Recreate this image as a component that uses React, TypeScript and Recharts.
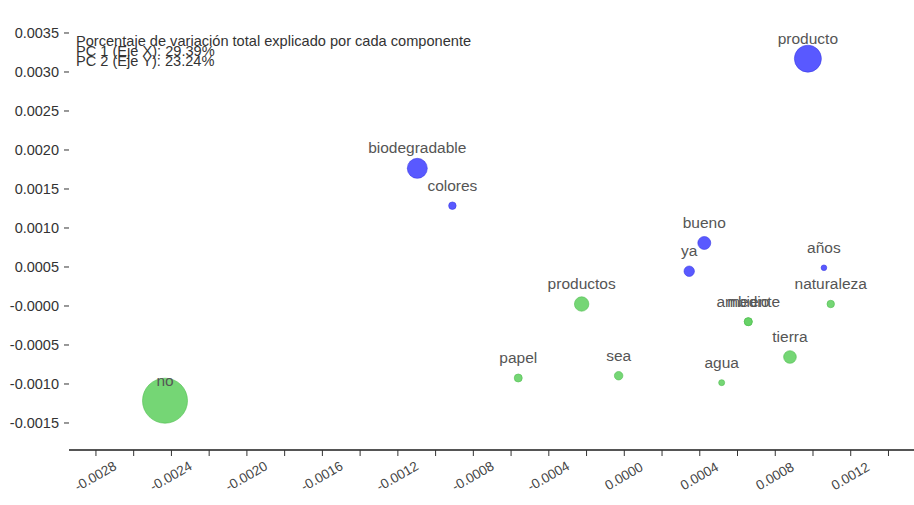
import React from 'react';
import { ScatterChart, Scatter, XAxis, YAxis, ZAxis } from 'recharts';

// PCA word map: blue = group 1, green = group 2
const blueWords = ['producto', 'biodegradable', 'colores', 'bueno', 'ya', 'años'];
const bluePc1 = [0.000973, -0.001097, -0.000911, 0.000424, 0.000344, 0.001058];
const bluePc2 = [0.003171, 0.001765, 0.001286, 0.000808, 0.000446, 0.00049];
const blueSize = [182, 100, 14, 42, 27, 8];

const greenWords = ['productos', 'naturaleza', 'ambiente', 'medio', 'tierra', 'papel', 'sea', 'agua', 'no'];
const greenPc1 = [-0.000226, 0.001094, 0.000657, 0.000657, 0.000878, -0.000562, -0.00003, 0.000516, -0.002434];
const greenPc2 = [0.0000256, 0.0000256, -0.000201, -0.000201, -0.000654, -0.000923, -0.000894, -0.000983, -0.001214];
const greenSize = [52, 14, 16, 16, 40, 16, 18, 9, 506];

const xTicks = [-0.0028, -0.0026, -0.0024, -0.0022, -0.002, -0.0018, -0.0016, -0.0014, -0.0012, -0.001, -0.0008, -0.0006,
  -0.0004, -0.0002, 0, 0.0002, 0.0004, 0.0006, 0.0008, 0.001, 0.0012, 0.0014];
const yTicks = [0.0035, 0.003, 0.0025, 0.002, 0.0015, 0.001, 0.0005, 0, -0.0005, -0.001, -0.0015];

const titleLines = [
  'Porcentaje de variación total explicado por cada componente',
  'PC 1 (Eje X): 29.39%',
  'PC 2 (Eje Y): 23.24%',
];

const build = (words: string[], xs: number[], ys: number[], zs: number[]) =>
  words.map((w, i) => ({ word: w, x: xs[i], y: ys[i], z: zs[i] }));

const blueData = build(blueWords, bluePc1, bluePc2, blueSize);
const greenData = build(greenWords, greenPc1, greenPc2, greenSize);

const FONT = 'Arial, "Liberation Sans", sans-serif';

const makeBubble = (fill: string, stroke: string) => (props: any) => {
  const { cx, cy, payload } = props;
  const r = props.width ? props.width / 2 : Math.sqrt((props.size || 0) / Math.PI);
  return (
    <g>
      <circle cx={cx} cy={cy} r={r} fill={fill} stroke={stroke} strokeWidth={1} />
      <text x={cx} y={cy - 15} textAnchor="middle" fontSize={15.5} fill="#555" fontFamily={FONT}>
        {payload.word}
      </text>
    </g>
  );
};

const XTick = (props: any) => {
  const { x, y, payload } = props;
  const v = payload.value;
  const k = Math.round(v / 0.0002);
  if (k % 2 !== 0) return null;
  const ty = y + 19;
  return (
    <text x={x} y={ty} textAnchor="middle" dominantBaseline="middle" fontSize={13.5} fill="#444"
      fontFamily={FONT} transform={`rotate(-30, ${x}, ${ty})`}>
      {v.toFixed(4)}
    </text>
  );
};

const yFormat = (v: number) => (v === 0 ? '-0.0000' : v.toFixed(4));

const App: React.FC = () => {
  return (
    <div style={{ position: 'absolute', left: 0, top: 0, width: 914, height: 505, background: '#fff' }}>
      <ScatterChart width={914} height={505} margin={{ top: 8, right: 0, bottom: 0, left: 0 }}>
        <XAxis type="number" dataKey="x" domain={[-0.0029428, 0.0015353]} ticks={xTicks} interval={0}
          allowDataOverflow axisLine={{ stroke: '#555', strokeWidth: 2 }} tickLine={{ stroke: '#333' }}
          tickSize={6} height={55} tick={<XTick />} />
        <YAxis type="number" dataKey="y" domain={[-0.0018462, 0.0038205]} ticks={yTicks} interval={0}
          allowDataOverflow axisLine={false} tickLine={{ stroke: '#333' }} tickSize={5} tickMargin={5} width={69}
          tickFormatter={yFormat} tick={{ fill: '#333', fontSize: 14.5, fontFamily: FONT }} />
        <ZAxis type="number" dataKey="z" domain={[0, 506]} range={[0, Math.PI * 506]} />
        <Scatter data={blueData} isAnimationActive={false} shape={makeBubble('rgba(75,75,255,0.92)', 'rgba(60,60,230,0.6)')} />
        <Scatter data={greenData} isAnimationActive={false} shape={makeBubble('rgba(102,210,102,0.9)', 'rgba(80,190,80,0.6)')} />
        {titleLines.map((t, i) => (
          <text key={t} x={76} y={46 + i * 10} fontSize={14.6} fill="#333" fontFamily={FONT}>{t}</text>
        ))}
      </ScatterChart>
    </div>
  );
};

export default App;
